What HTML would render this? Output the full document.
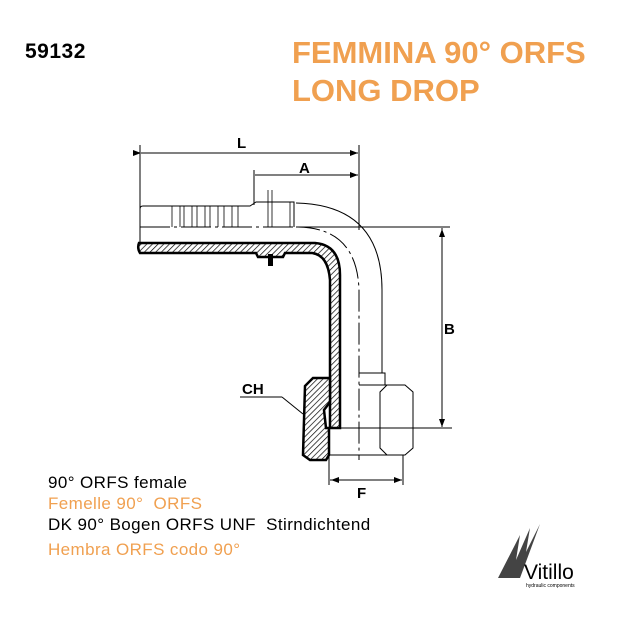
<!DOCTYPE html>
<html><head><meta charset="utf-8"><style>
body{margin:0;background:#fff;width:640px;height:640px;overflow:hidden;position:relative;font-family:"Liberation Sans",sans-serif}
.t{position:absolute;white-space:nowrap}
</style></head><body>
<div class="t" style="left:25px;top:40px;font-size:21px;font-weight:bold;color:#000;letter-spacing:0.5px">59132</div>
<div class="t" style="left:292px;top:34px;font-size:31px;font-weight:bold;color:#f0a050;line-height:38px">FEMMINA 90° ORFS<br>LONG DROP</div>
<svg width="640" height="640" style="position:absolute;left:0;top:0">
<defs><pattern id="h" width="4" height="4" patternUnits="userSpaceOnUse" patternTransform="rotate(45)"><rect width="4" height="4" fill="#fff"/><line x1="0" y1="0" x2="0" y2="4" stroke="#000" stroke-width="1.4"/></pattern>
<marker id="ar" markerWidth="8" markerHeight="6" refX="8" refY="3" orient="auto"><path d="M0,0L8,3L0,6z"/></marker></defs>
<g stroke="#000" fill="none" stroke-width="1">
<line x1="140" y1="145" x2="140" y2="245"/><line x1="359" y1="145" x2="359" y2="230"/>
<line x1="141" y1="153" x2="358" y2="153" marker-end="url(#ar)" marker-start="url(#ar)"/>
<line x1="254" y1="170" x2="254" y2="205"/>
<line x1="255" y1="175" x2="358" y2="175" marker-end="url(#ar)"/>
<line x1="296" y1="227" x2="450" y2="227"/><line x1="330" y1="428" x2="452" y2="428"/>
<line x1="442" y1="228" x2="442" y2="427" marker-end="url(#ar)"/><line x1="442" y1="240" x2="442" y2="229" marker-end="url(#ar)"/>
<line x1="329" y1="455" x2="329" y2="485"/><line x1="403" y1="455" x2="403" y2="485"/>
<line x1="330" y1="480" x2="402" y2="480" marker-end="url(#ar)"/><line x1="350" y1="480" x2="331" y2="480" marker-end="url(#ar)"/>
<path d="M143,206 L250,206 L256,202 L294,202 L294,227"/>
<path d="M140,227 L140,209 Q140,206 143,206"/>
<g stroke-width="0.8"><line x1="172" y1="206" x2="172" y2="227"/><line x1="180" y1="206" x2="180" y2="227"/><line x1="184" y1="206" x2="184" y2="227"/><line x1="192" y1="206" x2="192" y2="227"/><line x1="197" y1="206" x2="197" y2="227"/><line x1="205" y1="206" x2="205" y2="227"/><line x1="210" y1="206" x2="210" y2="227"/><line x1="218" y1="206" x2="218" y2="227"/><line x1="224" y1="206" x2="224" y2="227"/><line x1="232" y1="206" x2="232" y2="227"/><line x1="238" y1="206" x2="238" y2="227"/><line x1="268" y1="190" x2="268" y2="227"/><line x1="272" y1="190" x2="272" y2="227"/><line x1="290" y1="202" x2="290" y2="227"/></g>
<line x1="140" y1="227" x2="295" y2="227" stroke-dasharray="30,4,3,4"/>
<path d="M296,203 Q382,205 382,290 L382,373"/>
<path d="M298,227 Q357,228 359,290 L359,460" stroke-dasharray="22,4,3,4"/>
<path d="M359,373 L385,373 L385,385"/>
<path d="M359,385 L405,385 L413,392 L413,448 L405,455 L329,455"/>
<path d="M387,385 L380,392 L380,448 L387,455"/>
<line x1="359" y1="428" x2="413" y2="428"/>
<line x1="240" y1="397" x2="282" y2="397"/><line x1="282" y1="397" x2="303" y2="414"/>
</g>
<path d="M139,243 L315,243 Q340,245 340,275 L340,428 L330,428 L330,280 Q328,255 312,253 L285,253 L283,257 L258,257 L256,253 L140,253 Q137,248 139,243Z" fill="url(#h)" stroke="#000" stroke-width="2.5"/>
<rect x="268" y="254" width="5" height="12" fill="#000"/>
<path d="M330,378 L313,378 L305,386 L303,455 L310,460 L326,460 L329,455 L329,428 L326,428 L324,410 L330,402Z" fill="url(#h)" stroke="#000" stroke-width="2.5"/>
<text x="242" y="394" font-size="15" font-weight="bold" font-family="Liberation Sans">CH</text>
<text x="237" y="148" font-size="15" font-weight="bold" font-family="Liberation Sans">L</text>
<text x="299" y="173" font-size="15" font-weight="bold" font-family="Liberation Sans">A</text>
<text x="444" y="334" font-size="15" font-weight="bold" font-family="Liberation Sans">B</text>
<text x="357" y="498" font-size="15" font-weight="bold" font-family="Liberation Sans">F</text>
<path d="M498,578 L520,535 L516,560 L530,528 L526,552 L540,524 L520,578Z" fill="#444"/>
<text x="524" y="579" font-size="21" font-family="Liberation Sans" fill="#000">Vitillo</text>
<text x="526" y="587" font-size="5" font-family="Liberation Sans" fill="#000">hydraulic components</text>
</svg>
<div class="t" style="left:48px;top:472px;font-size:17px;line-height:21px;letter-spacing:0.4px">
<div style="color:#000">90° ORFS female</div>
<div style="color:#f0a050">Femelle 90°&nbsp; ORFS</div>
<div style="color:#000">DK 90° Bogen ORFS UNF&nbsp; Stirndichtend</div>
<div style="color:#f0a050;margin-top:4px">Hembra ORFS codo 90°</div>
</div>
</body></html>
